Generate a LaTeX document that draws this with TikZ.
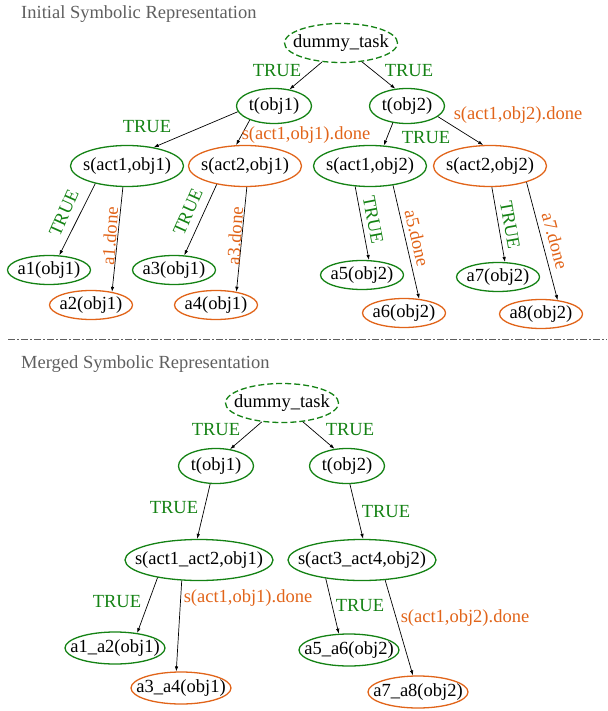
\documentclass[tikz,border=0pt]{standalone}
\usepackage{fontspec}
\setmainfont{Liberation Serif}
\usetikzlibrary{shapes.geometric,arrows.meta}
\definecolor{tgreen}{RGB}{20,130,20}
\definecolor{torange}{RGB}{225,100,25}
\definecolor{tgray}{RGB}{95,95,95}
\begin{document}
\begin{tikzpicture}[
        x=1pt, y=-1pt,
        every node/.style={font=\fontsize{18.5pt}{22pt}\selectfont},
        oval/.style={ellipse, draw, line width=1.3pt, inner sep=0pt,
        execute at begin node={\hbox to 0pt\bgroup\hss},
        execute at end node={\hss\egroup}},
        gnode/.style={oval, draw=tgreen},
        onode/.style={oval, draw=torange},
        root/.style={gnode, dash pattern=on 6pt off 3pt,
        minimum width=113pt, minimum height=39pt},
        tnode/.style={gnode, minimum width=75pt, minimum height=35pt},
        snode/.style={minimum width=113pt, minimum height=41pt},
        anode/.style={minimum width=83pt, minimum height=29pt},
        mnode/.style={minimum width=148pt, minimum height=41pt},
        bnode/.style={minimum width=100pt, minimum height=32pt},
        glabel/.style={text=tgreen, inner sep=0pt},
        olabel/.style={text=torange, inner sep=0pt},
        title/.style={text=tgray, anchor=base west, inner sep=0pt},
        link/.style={-{Latex[length=5pt,width=3.5pt]}, line width=0.7pt}
      ]
    \useasboundingbox (0,0) rectangle (607,711);
    \node[title] (title1) at (21,19) {Initial Symbolic Representation};
    \node[root] (d1) at (341,43) {dummy\_task};
    \node[tnode] (t1) at (274,106) {t(obj1)};
    \node[tnode] (t2) at (407,106) {t(obj2)};
    \node[gnode, snode] (s11) at (127,166) {s(act1,obj1)};
    \node[onode, snode] (s21) at (245,166) {s(act2,obj1)};
    \node[gnode, snode] (s12) at (370,166) {s(act1,obj2)};
    \node[onode, snode] (s22) at (490,166) {s(act2,obj2)};
    \node[gnode, anode] (a1) at (49,270) {a1(obj1)};
    \node[onode, anode] (a2) at (91,305) {a2(obj1)};
    \node[gnode, anode] (a3) at (174,270) {a3(obj1)};
    \node[onode, anode] (a4) at (216,305) {a4(obj1)};
    \node[gnode, anode] (a5) at (362,275) {a5(obj2)};
    \node[onode, anode] (a6) at (404,313) {a6(obj2)};
    \node[gnode, anode] (a7) at (498,277) {a7(obj2)};
    \node[onode, anode] (a8) at (541,314) {a8(obj2)};
    \draw[link] (d1.-135) -- (t1.47);
    \draw[link] (d1.-42) -- (t2.124);
    \draw[link] (t1.-171) -- (s11.35);
    \draw[link] (t1.-150) -- (s21.113);
    \draw[link] (t2.-130) -- (s12.56);
    \draw[link] (t2.-19) -- (s22.108);
    \draw[link] (s11.-151) -- (a1.55);
    \draw[link] (s11.-101) -- (a2.32);
    \draw[link] (s21.-147) -- (a3.55);
    \draw[link] (s21.-85) -- (a4.33);
    \draw[link] (s12.-126) -- (a5.65);
    \draw[link] (s12.-40) -- (a6.43);
    \draw[link] (s22.-85) -- (a7.65);
    \draw[link] (s22.-24) -- (a8.40);
    \node[glabel] (l1) at (277,71) {TRUE};
    \node[glabel] (l2) at (409,71) {TRUE};
    \node[glabel] (l3) at (147,127) {TRUE};
    \node[olabel] (l4) at (306,135) {s(act1,obj1).done};
    \node[glabel] (l5) at (426,138) {TRUE};
    \node[olabel] (l6) at (518,115) {s(act1,obj2).done};
    \node[glabel, rotate=66] (l7) at (64,213) {TRUE};
    \node[olabel, rotate=86] (l8) at (110,236) {a1.done};
    \node[glabel, rotate=66] (l9) at (188,212) {TRUE};
    \node[olabel, rotate=86] (l10) at (235,236) {a3.done};
    \node[glabel, rotate=-79] (l11) at (373,220) {TRUE};
    \node[olabel, rotate=-77] (l12) at (417,238) {a5.done};
    \node[glabel, rotate=-80] (l13) at (510,225) {TRUE};
    \node[olabel, rotate=-75] (l14) at (555,241) {a7.done};
    \draw[tgray, line width=0.8pt, dash pattern=on 7pt off 2pt on 2pt off 2pt]
    (8,339) -- (607,339);
    \node[title] (title2) at (21,368) {Merged Symbolic Representation};
    \node[root] (d2) at (282,403) {dummy\_task};
    \node[tnode] (u1) at (216,466) {t(obj1)};
    \node[tnode] (u2) at (347,466) {t(obj2)};
    \node[gnode, mnode] (m1) at (199,560) {s(act1\_act2,obj1)};
    \node[gnode, mnode] (m2) at (362,560) {s(act3\_act4,obj2)};
    \node[gnode, bnode] (b12) at (115,648) {a1\_a2(obj1)};
    \node[onode, bnode] (b34) at (181,688) {a3\_a4(obj1)};
    \node[gnode, bnode] (b56) at (349,650) {a5\_a6(obj2)};
    \node[onode, bnode] (b78) at (418,692) {a7\_a8(obj2)};
    \draw[link] (d2.-137) -- (u1.50);
    \draw[link] (d2.-42) -- (u2.126);
    \draw[link] (u1.-108) -- (m1.95);
    \draw[link] (u2.-81) -- (m2.87);
    \draw[link] (m1.-157) -- (b12.34);
    \draw[link] (m1.-130) -- (b34.106);
    \draw[link] (m2.-153) -- (b56.122);
    \draw[link] (m2.-41) -- (b78.107);
    \node[glabel] (k1) at (216,430) {TRUE};
    \node[glabel] (k2) at (350,430) {TRUE};
    \node[glabel] (k3) at (174,508) {TRUE};
    \node[glabel] (k4) at (386,512) {TRUE};
    \node[glabel] (k5) at (117,602) {TRUE};
    \node[olabel] (k6) at (248,598) {s(act1,obj1).done};
    \node[glabel] (k7) at (360,606) {TRUE};
    \node[olabel] (k8) at (465,618) {s(act1,obj2).done};
      \end{tikzpicture}
\end{document}
